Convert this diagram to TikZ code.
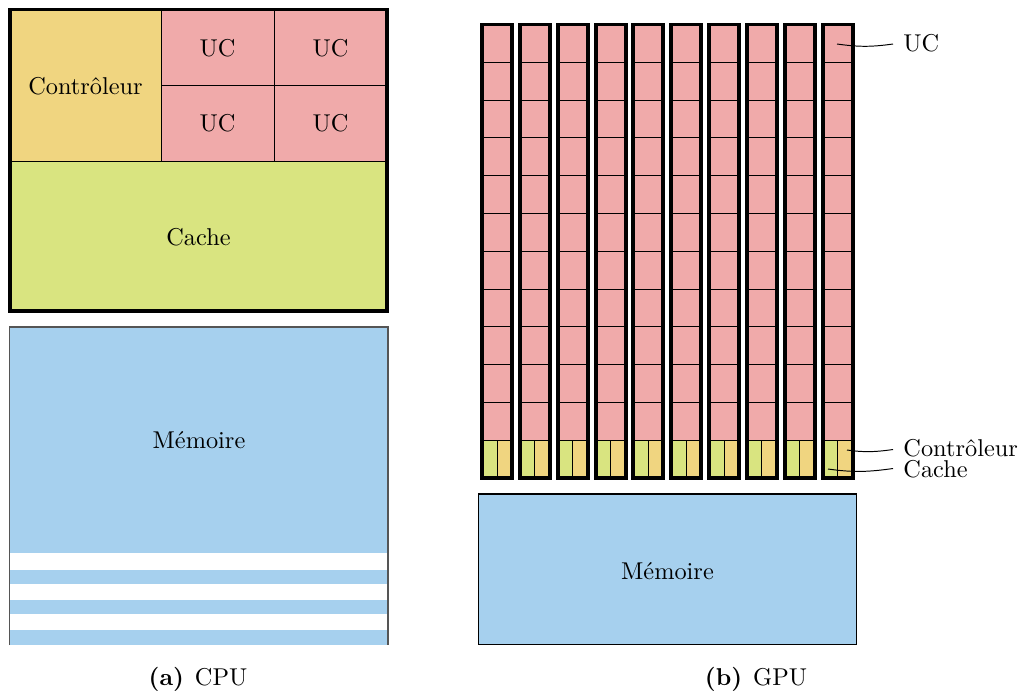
\documentclass[tikz,border=0pt]{standalone}
\usepackage{fontspec}
\definecolor{ucpink}{HTML}{F0AAAA}
\definecolor{ctlyellow}{HTML}{F0D580}
\definecolor{cachegreen}{HTML}{D9E480}
\definecolor{memblue}{HTML}{A6D0EE}
\definecolor{membord}{HTML}{555555}
\tikzset{
  frame/.style={draw=black, line width=1.6pt},
  cellline/.style={draw=black, line width=0.4pt},
  lbl/.style={inner sep=0pt, anchor=base west},
  txt/.style={inner sep=0pt},
  leader/.style={draw=black, line width=0.4pt},
}
\begin{document}
\begin{tikzpicture}[x=0.411pt, y=-0.411pt]
\useasboundingbox (0,0) rectangle (1019,693);

% ---------------- CPU ----------------
% controller
\fill[ctlyellow] (10,9.5) rectangle (161,161);
% UC cells
\fill[ucpink] (161,9.5) rectangle (387,161);
\draw[cellline] (161,9.5) -- (161,161);
\draw[cellline] (274,9.5) -- (274,161);
\draw[cellline] (161,85.5) -- (387,85.5);
% cache
\fill[cachegreen] (10,161) rectangle (387,311);
\draw[cellline] (10,161) -- (387,161);
\draw[frame] (10,9.5) rectangle (387,311);
\node[txt] (cctl) at (85.5,86) {Contrôleur};
\node[txt] (cuc1) at (217.5,48) {UC};
\node[txt] (cuc2) at (330.5,48) {UC};
\node[txt] (cuc3) at (217.5,123) {UC};
\node[txt] (cuc4) at (330.5,123) {UC};
\node[txt] (ccache) at (198.5,237) {Cache};

% CPU memory
\fill[memblue] (9.5,327) rectangle (388,553);
\fill[memblue] (9.5,570) rectangle (388,583.5);
\fill[memblue] (9.5,600) rectangle (388,614);
\fill[memblue] (9.5,630) rectangle (388,645);
\draw[membord, line width=0.5pt] (9.5,645) -- (9.5,327) -- (388,327) -- (388,645);
\node[txt] (cmem) at (199,440) {Mémoire};

% ---------------- GPU ----------------
\foreach \i in {0,...,9} {
  \pgfmathsetmacro{\xl}{482+37.85*\i}
  \pgfmathsetmacro{\xr}{\xl+30}
  \pgfmathsetmacro{\xm}{\xl+15}
  \fill[ucpink] (\xl,24.5) rectangle (\xr,440.2);
  \fill[cachegreen] (\xl,440.2) rectangle (\xm,478);
  \fill[ctlyellow] (\xm,440.2) rectangle (\xr,478);
  \foreach \r in {1,...,11} {
    \draw[cellline] (\xl,24.5+37.79*\r) -- (\xr,24.5+37.79*\r);
  }
  \draw[cellline] (\xm,440.2) -- (\xm,478);
  \draw[frame] (\xl,24.5) rectangle (\xr,478);
}

% GPU memory
\fill[memblue] (478.5,494) rectangle (856.5,644.5);
\draw[black, line width=0.5pt] (478.5,494) rectangle (856.5,644.5);
\node[txt] (gmem) at (667.5,571) {Mémoire};

% labels
\coordinate (pUC) at (837,44);
\coordinate (pCtl) at (847,450);
\coordinate (pCache) at (828,469);
\node[lbl] (lUC) at (903,51.7) {UC};
\node[lbl] (lCtl) at (903,456.5) {Contrôleur};
\node[lbl] (lCache) at (903,477.5) {Cache};
\coordinate (eUC) at (893,44);
\coordinate (eCtl) at (893,449.5);
\coordinate (eCache) at (893,468.5);
\draw[leader] (pUC) to[out=-8,in=188] (eUC);
\draw[leader] (pCtl) to[out=-8,in=188] (eCtl);
\draw[leader] (pCache) to[out=-8,in=188] (eCache);

% captions
\node[inner sep=0pt, anchor=base] (capa) at (198,685) {\textbf{(a)}\hspace{4.5pt}CPU};
\node[inner sep=0pt, anchor=base] (capb) at (756,685) {\textbf{(b)}\hspace{4.5pt}GPU};
\end{tikzpicture}
\end{document}
